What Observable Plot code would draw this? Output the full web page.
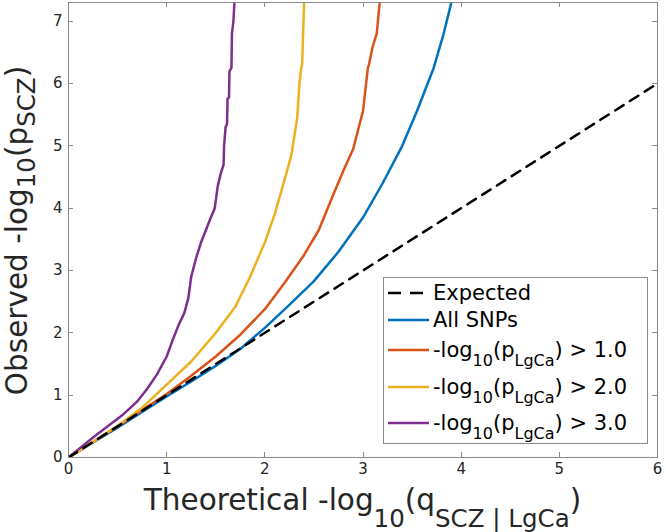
<!DOCTYPE html>
<html><head><meta charset="utf-8">
<script src="https://cdn.jsdelivr.net/npm/d3@7"></script>
<script src="https://cdn.jsdelivr.net/npm/@observablehq/plot@0.6"></script>
<style>body{margin:0;background:#fff} svg{font-family:"DejaVu Sans",sans-serif}</style>
</head><body><div id="chart"></div>
<script>
// ---- data ----
const xTicks = [0, 1, 2, 3, 4, 5, 6];
const yTicks = [0, 1, 2, 3, 4, 5, 6, 7];

const expectedX = [0, 6];
const expectedY = [0, 6];

const allX = [0, 0.25, 0.5, 0.75, 1.0, 1.25, 1.5, 1.75, 2.0, 2.25, 2.5, 2.75, 3.0, 3.2, 3.4, 3.55, 3.72, 3.82, 3.9];
const allY = [0, 0.24, 0.48, 0.73, 0.98, 1.22, 1.47, 1.74, 2.08, 2.45, 2.83, 3.3, 3.85, 4.4, 5.0, 5.56, 6.25, 6.79, 7.3];

const p1X = [0, 0.25, 0.5, 0.75, 1.0, 1.25, 1.5, 1.75, 2.0, 2.2, 2.4, 2.55, 2.68, 2.8, 2.9, 3.0, 3.05, 3.06, 3.1, 3.14, 3.17];
const p1Y = [0, 0.25, 0.5, 0.76, 1.02, 1.31, 1.62, 1.97, 2.38, 2.8, 3.25, 3.65, 4.15, 4.6, 4.95, 5.56, 6.25, 6.3, 6.6, 6.8, 7.3];

const p2X = [0, 0.25, 0.5, 0.75, 1.0, 1.25, 1.5, 1.7, 1.85, 2.0, 2.1, 2.2, 2.27, 2.33, 2.35, 2.37, 2.38, 2.39, 2.4];
const p2Y = [0, 0.25, 0.51, 0.8, 1.17, 1.54, 2.0, 2.42, 2.9, 3.45, 3.9, 4.45, 4.85, 5.45, 5.95, 6.25, 6.3, 6.8, 7.3];

const p3X = [0, 0.1, 0.25, 0.4, 0.55, 0.7, 0.8, 0.9, 1.0, 1.06, 1.12, 1.18, 1.22, 1.25, 1.3, 1.35, 1.4, 1.45, 1.49, 1.52, 1.55, 1.58, 1.585, 1.6, 1.615, 1.62, 1.635, 1.64, 1.66, 1.665, 1.68, 1.69];
const p3Y = [0, 0.13, 0.32, 0.5, 0.68, 0.9, 1.1, 1.33, 1.62, 1.88, 2.12, 2.32, 2.55, 2.9, 3.2, 3.45, 3.65, 3.85, 4.0, 4.35, 4.55, 4.7, 5.0, 5.3, 5.35, 5.75, 5.78, 6.2, 6.25, 6.8, 7.0, 7.3];

const seriesNames = ["All SNPs", "p > 1.0", "p > 2.0", "p > 3.0"];
const seriesColors = ["#0072BD", "#D95319", "#EDB120", "#7E2F8E"];
const thresholds = ["1.0", "2.0", "3.0"];

// legend / label text parts: [text, isSubscript]
const legendLabels = [
  [["Expected", false]],
  [["All SNPs", false]],
  ...thresholds.map(t => [["-log", false], ["10", true], ["(p", false], ["LgCa", true], [") > " + t, false]])
];
const xLabelParts = [["Theoretical -log", false], ["10", true], ["(q", false], ["SCZ | LgCa", true], [")", false]];
const yLabelParts = [["Observed -log", false], ["10", true], ["(p", false], ["SCZ", true], [")", false]];

// ---- build tables ----
const seriesXY = [[allX, allY], [p1X, p1Y], [p2X, p2Y], [p3X, p3Y]];
const rows = [];
seriesXY.forEach(([xs, ys], k) => xs.forEach((x, i) => rows.push({x, y: ys[i], series: seriesNames[k]})));
const expRows = expectedX.map((x, i) => ({x, y: expectedY[i]}));

const frameColor = "#8a8a8a";
const chart = Plot.plot({
  width: 666, height: 532,
  marginLeft: 68, marginRight: 9, marginTop: 2, marginBottom: 75,
  style: {fontFamily: "DejaVu Sans", background: "#fff", overflow: "visible"},
  x: {domain: [0, 6]},
  y: {domain: [0, 7.3]},
  color: {domain: seriesNames, range: seriesColors},
  marks: [
    Plot.axisX(xTicks, {tickSize: 0, tickPadding: 6, fontSize: 15, color: "#262626", label: null, tickFormat: d => String(d)}),
    Plot.axisY(yTicks, {tickSize: 0, tickPadding: 6, fontSize: 15, color: "#262626", label: null, tickFormat: d => String(d)}),
    Plot.line(rows, {x: "x", y: "y", z: "series", stroke: "series", strokeWidth: 2.5, clip: true}),
    Plot.line(expRows, {x: "x", y: "y", stroke: "#000", strokeWidth: 2.5, strokeDasharray: "10,7.5", clip: true}),
    Plot.frame({stroke: frameColor, strokeWidth: 1})
  ]
});
document.getElementById("chart").appendChild(chart);

// ---- overlays: inward ticks, labels, legend ----
const svg = d3.select(chart);
const sx = chart.scale("x"), sy = chart.scale("y");
const [x0, x1] = sx.range, [y0, y1] = sy.range; // y0 bottom, y1 top
const tk = 5;
const tg = svg.append("g").attr("stroke", frameColor).attr("stroke-width", 1);
xTicks.forEach(t => {
  const p = Math.round(sx.apply(t)) + 0.5;
  tg.append("line").attr("x1", p).attr("x2", p).attr("y1", y0).attr("y2", y0 - tk);
  tg.append("line").attr("x1", p).attr("x2", p).attr("y1", y1).attr("y2", y1 + tk);
});
yTicks.forEach(t => {
  const p = Math.round(sy.apply(t)) + 0.5;
  tg.append("line").attr("y1", p).attr("y2", p).attr("x1", x0).attr("x2", x0 + tk);
  tg.append("line").attr("y1", p).attr("y2", p).attr("x1", x1).attr("x2", x1 - tk);
});

function richText(sel, parts, size, subSize, shift) {
  let down = false;
  parts.forEach(([txt, sub]) => {
    const ts = sel.append("tspan").text(txt).attr("font-size", sub ? subSize : size);
    if (sub && !down) { ts.attr("dy", shift); down = true; }
    else if (!sub && down) { ts.attr("dy", -shift); down = false; }
  });
}

// x label
richText(svg.append("text").attr("x", (x0 + x1) / 2).attr("y", 510).attr("text-anchor", "middle").attr("fill", "#262626"),
  xLabelParts, 29.5, 24.5, 17);
// y label
richText(svg.append("text").attr("transform", `translate(27,${(y0 + y1) / 2 + 1}) rotate(-90)`).attr("text-anchor", "middle").attr("fill", "#262626"),
  yLabelParts, 29.5, 24.5, 8);

// legend
const lg = svg.append("g").attr("text-anchor", "start");
lg.append("rect").attr("x", 383.5).attr("y", 277.5).attr("width", 264).attr("height", 166)
  .attr("fill", "#fff").attr("stroke", frameColor).attr("stroke-width", 1);
const rowY = [293, 320, 350, 387, 423];
const legendStroke = ["#000", ...seriesColors];
legendLabels.forEach((parts, i) => {
  const ln = lg.append("line").attr("x1", 388).attr("x2", 429).attr("y1", rowY[i]).attr("y2", rowY[i])
    .attr("stroke", legendStroke[i]).attr("stroke-width", 2.5);
  if (i === 0) ln.attr("stroke-dasharray", "13,9");
  richText(lg.append("text").attr("x", 433).attr("y", rowY[i] + 7).attr("fill", "#000").attr("text-anchor", "start"),
    parts, 21, 16, 9);
});
</script>
</body></html>
